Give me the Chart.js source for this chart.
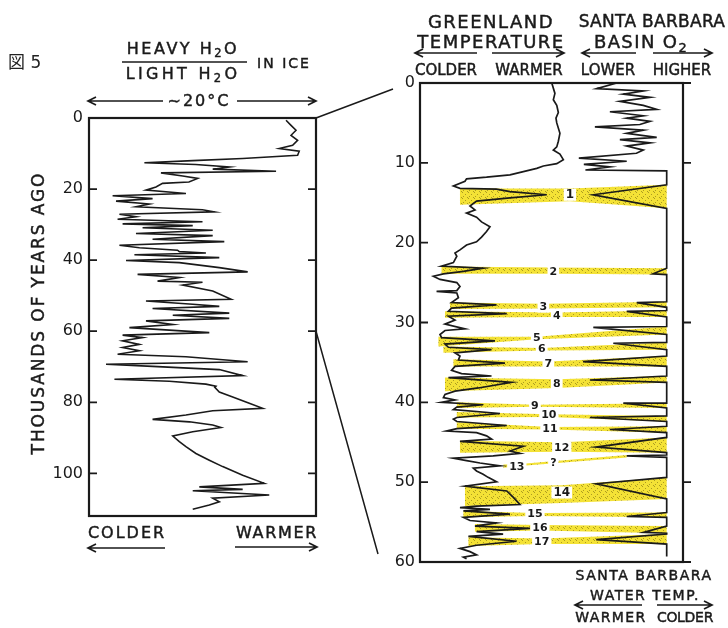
<!DOCTYPE html>
<html><head><meta charset="utf-8">
<script src="https://cdn.jsdelivr.net/npm/chart.js@4.4.0/dist/chart.umd.min.js"></script>
<style>
html,body{margin:0;padding:0;background:#fff;}
#wrap{position:relative;width:728px;height:628px;overflow:hidden;background:#fff;}
canvas{position:absolute;left:0;top:0;}
svg{position:absolute;left:0;top:0;}
.t{position:absolute;font-family:"DejaVu Sans",sans-serif;color:#1a1a1a;white-space:nowrap;line-height:1;-webkit-text-stroke:0.45px #1a1a1a;}
.c{transform:translateX(-50%);}
.s{font-size:0.72em;position:relative;top:0.3em;}
</style></head><body>
<div id="wrap">
<canvas id="c1" width="728" height="628"></canvas>
<canvas id="c2" width="728" height="628"></canvas>
<svg width="728" height="628">
<g stroke="#1a1a1a" stroke-width="1.7" fill="none">
 <line x1="122" y1="62" x2="247" y2="62"/>
 <path d="M163 101 H88 M96 97 L88 101 L96 105"/>
 <path d="M237 101 H316 M308 97 L316 101 L308 105"/>
 <path d="M477 53 H415 M423 49 L415 53 L423 57"/>
 <path d="M492 53 H564 M556 49 L564 53 L556 57"/>
 <path d="M636 53 H582 M590 49 L582 53 L590 57"/>
 <path d="M653 53 H712 M704 49 L712 53 L704 57"/>
 <path d="M165 548 H88 M96 544 L88 548 L96 552"/>
 <path d="M235 547 H317 M309 543 L317 547 L309 551"/>
 <path d="M642 605 H575 M583 601 L575 605 L583 609"/>
 <path d="M657 605 H712 M704 601 L712 605 L704 609"/>
</g></svg>
<div class="t" style="left:8px;top:52px;font-size:17px;color:#222;-webkit-text-stroke:0"><span style="font-family:'Noto Sans CJK JP'">図</span> 5</div>
<div class="t c" style="left:183px;top:41px;font-size:16px;letter-spacing:2.5px">HEAVY H<span class="s">2</span>O</div>
<div class="t c" style="left:183px;top:66px;font-size:16px;letter-spacing:3.3px">LIGHT H<span class="s">2</span>O</div>
<div class="t c" style="left:284px;top:56px;font-size:14px;letter-spacing:2px">IN ICE</div>
<div class="t c" style="left:199px;top:93px;font-size:16px;letter-spacing:2px">~20°C</div>
<div class="t c" style="left:127px;top:525px;font-size:16px;letter-spacing:2px">COLDER</div>
<div class="t c" style="left:277px;top:525px;font-size:16px;letter-spacing:1.7px">WARMER</div>
<div class="t" style="left:38px;top:313px;font-size:17px;letter-spacing:1.9px;transform:translate(-50%,-50%) rotate(-90deg)">THOUSANDS OF YEARS AGO</div>
<div class="t c" style="left:491px;top:13px;font-size:18px;letter-spacing:1.5px">GREENLAND</div>
<div class="t c" style="left:491px;top:33px;font-size:18px;letter-spacing:1.5px">TEMPERATURE</div>
<div class="t c" style="left:446px;top:63px;font-size:15px">COLDER</div>
<div class="t c" style="left:529px;top:63px;font-size:15px">WARMER</div>
<div class="t c" style="left:652px;top:13px;font-size:17px;letter-spacing:0.3px">SANTA BARBARA</div>
<div class="t c" style="left:641px;top:33px;font-size:18px;letter-spacing:1.4px">BASIN O<span class="s">2</span></div>
<div class="t c" style="left:608px;top:63px;font-size:15px">LOWER</div>
<div class="t c" style="left:682px;top:63px;font-size:15px">HIGHER</div>
<div class="t c" style="left:644px;top:568px;font-size:14px;letter-spacing:1.5px">SANTA BARBARA</div>
<div class="t c" style="left:645px;top:588px;font-size:14px;letter-spacing:1.5px">WATER TEMP.</div>
<div class="t c" style="left:611px;top:610px;font-size:14px;letter-spacing:1.4px">WARMER</div>
<div class="t c" style="left:685px;top:610px;font-size:14px;letter-spacing:-0.3px">COLDER</div>
</div>
<script>
// ---------- DATA ----------
// Left panel: heavy/light water in ice (0 = colder, 100 = warmer), age in thousands of years
const iceAge = [0.65,2.06,3.46,4.87,6.27,7.68,8.61,9.36,10.5,11.4,12.0,12.6,13.1,13.8,14.4,15.0,15.45,16.3,17.0,18.0,18.4,19.4,20.3,21.25,21.9,22.7,23.4,24.2,25.0,25.8,26.4,27.1,27.8,28.5,29.2,29.8,30.3,30.9,31.6,32.5,33.1,34.1,34.8,35.8,36.5,37.2,37.6,38.0,38.5,39.3,40.1,40.7,42.1,43.3,44.0,44.9,45.9,46.2,47.0,48.7,51.0,51.5,52.4,53.0,53.6,54.9,55.5,56.4,57.1,58.1,59.0,60.4,61.1,61.8,62.7,63.7,64.6,65.5,66.5,67.2,68.6,69.3,69.9,70.8,72.5,73.5,74.1,74.9,75.5,75.8,77.1,78.5,80.3,81.7,82.4,83.6,84.8,85.5,86.4,87.1,88.3,89.5,91.1,92.5,94.4,96.3,98.1,100.5,102.8,103.8,104.5,104.9,106.1,107.0,108.0,108.9,110.1];
const iceValue = [86.8,89,91.2,89,91.9,89.7,83.8,92.6,91.9,67.7,45.7,24.4,47,61.8,54.5,82.4,31.7,41.3,47.9,44,32.4,29.5,25.1,42.7,10.4,28,11.9,26.6,20.7,50,55.2,13.4,20.7,12.6,50,14.8,45.7,23.6,54.5,20.7,54.5,28,59.6,13.4,22.2,39,39.8,51.5,20,57.4,16.3,39.8,57.4,69.9,21.4,39.8,30.2,50,41.3,54.5,62.6,25.1,45.7,57.4,28,61.8,36.9,61.8,25.1,36.9,17.8,53,14.8,23.6,14.8,22.2,14.8,22.2,12.6,42.7,69.9,7.5,28,57.4,67.7,11.2,35.4,51.5,55.9,55.4,57.4,63.3,70.6,76.5,54.5,42.7,28,44.2,54.5,58.1,45.7,36.9,39.8,42.7,47.1,53,58.9,67.7,77.2,48.6,67.7,45.7,79.4,54.5,57.4,53,45.7];
const leftTicks = [0,20,40,60,80,100];
const leftMaxAge = 112;

// Right panel: Greenland temperature (0 = colder side of panel)
const grAge = [0,1.3,2.1,2.8,3.7,4.4,5.0,6.3,7.3,8.0,8.4,8.9,9.6,10.1,10.4,10.7,11.1,11.5,11.8,12.0,12.3,12.9,13.2,13.3,13.6,14.0,14.4,14.8,15.4,15.9,16.3,16.8,17.4,18.0,18.6,19.3,19.9,20.3,20.9,21.3,21.7,22.5,22.95,23.2,23.6,23.9,24.2,24.6,25.0,25.5,26.0,26.1,26.3,26.9,27.5,27.8,28.2,28.6,28.9,29.2,29.7,30.2,30.8,31.0,31.5,31.9,32.3,32.7,33.1,33.4,33.8,34.2,34.7,35.1,35.5,36.0,36.4,36.7,36.9,37.5,38.2,38.6,39.0,39.4,39.7,40.0,40.3,40.6,40.9,41.4,41.9,42.1,42.4,42.9,43.3,43.6,43.8,44.2,44.6,44.9,45.5,46.1,46.4,46.7,47.0,47.3,47.6,47.95,48.25,48.6,49.0,49.4,49.95,50.5,51.1,51.9,52.8,53.0,53.2,53.4,53.6,54.0,54.4,54.8,55.1,55.5,55.8,56.2,56.5,56.8,57.4,57.9,58.3,58.7,59.1,59.4,59.6];
const grValue = [50.1,51.3,50.7,52,52.6,51.7,52,53.2,52.6,52,50.7,53.2,54.5,52,46.9,44.4,39.3,34.2,25.3,17.7,17.1,12.7,15.2,29.1,34.2,48.2,34.2,21.5,19,20.9,17.7,21.5,23.4,26.6,25.3,23.4,21.5,17.7,15.2,13.3,14,12.7,8.2,24,16.5,8.9,5.1,7.6,14,15.2,14,6.3,14,14.6,12,29.1,12,10.8,33,10.8,13.3,9.5,17.1,9.5,7.6,8.2,28.5,9.5,10.8,27.2,13.3,15.2,14.6,32.3,13.3,12,15.8,27.2,10.8,34.8,22.2,13.3,9.5,8.9,13.3,8.2,24,14,12.7,30.4,14,12.7,14,33,14,10.1,21.5,25.3,27.2,15.2,39.3,34.2,38,27.8,12.7,17.7,22.8,30.4,20.3,21.5,24,25.9,29.1,17.1,33,35.5,38,21.5,15.2,26.6,16.5,34.2,16.5,19,29.1,20.9,41.8,21.5,31.6,18.4,36.7,21.5,15.2,19,21.5,16.5,17.7];

// Santa Barbara Basin O2 (upper, 0-11 kyr)
const sbAge = [0,0.7,1.0,1.4,1.8,2.3,2.8,3.3,3.6,4.1,4.4,4.8,5.2,5.5,5.9,6.3,6.8,7.1,7.5,7.9,8.4,8.8,9.4,9.8,10.2,10.5,10.9,11.0];
const sbValue = [74.8,67.2,84.9,77.3,87.5,76,84.9,90,72.2,84.9,78.6,87.5,83.6,66.5,84.9,78.6,90,76,87.5,78.6,84.9,82.3,60.4,78.6,62.3,72.2,62.9,93.8];
const sbBase = 93.8;      // Santa Barbara water-temperature baseline (colder edge)
const sbEndAge = 59.3;

// Correlated events 1-17 (and the doubtful one "?")
const bandLabels = ['1','2','3','4','5','6','7','8','9','10','11','12','13','14','15','16','17'];
const bandLeftX  = [15.2,8.2,11.4,9.5,7,8.9,12.7,9.5,14,14,14,15.2,31.7,17.1,16.5,20.9,18.4];
const bandMidX   = [57,50.7,46.9,52,44.4,46.3,48.8,52,43.7,49,49.4,53.9,36.8,53.9,43.7,45.6,46.3];
const bandRightX = [93.8,93.8,93.8,93.8,93.8,93.8,93.8,93.8,93.8,93.8,93.8,93.8,78.6,93.8,93.8,93.8,93.8];
const bandTopL = [13.2,23.0,27.5,28.6,31.8,33.0,34.6,36.9,40.0,41.2,42.5,44.8,47.8,50.5,53.6,55.25,56.9];
const bandBotL = [15.25,23.9,28.3,29.4,33.0,33.8,35.5,38.6,40.7,41.9,43.3,46.3,48.2,53.0,54.4,56.2,58.0];
const bandTopM = [13.2,23.1,27.65,28.75,31.8,33.2,34.9,37.1,40.3,41.5,43.1,45.0,47.75,50.4,53.85,55.35,57.05];
const bandBotM = [14.8,23.9,28.25,29.3,32.1,33.5,35.5,38.2,40.55,41.85,43.4,46.2,48.0,52.6,54.25,56.05,57.75];
const bandTopR = [12.75,23.2,27.4,28.5,30.5,32.5,34.2,36.7,40.1,41.7,43.0,44.4,46.6,49.4,53.8,55.5,56.5];
const bandBotR = [15.7,24.0,28.1,29.3,31.5,33.4,35.5,37.5,40.7,42.4,43.8,46.3,46.9,52.1,54.4,56.4,57.75];
const bandLabelAge = [14.0,23.6,28.0,29.1,31.9,33.3,35.2,37.6,40.4,41.6,43.25,45.7,48.0,51.3,54.0,55.7,57.5];
const sbTipX   = [65.9,88.6,82.4,78.6,65.9,73.5,62,64.6,77.3,64.6,72.2,67,78.6,67,78.6,85,67];
const sbTipAge = [14.0,23.9,27.5,28.6,30.6,32.6,34.9,37.2,40.1,41.9,43.4,45.6,46.7,50.2,54.3,56.3,57.2];
const extraLabels = ['?'];
const extraLabelX = [50.7];
const extraLabelAge = [47.6];

const rightTicks = [0,10,20,30,40,50,60];
const linkAges = [0,60];
// ---------- END DATA ----------

const FONT = '"DejaVu Sans", sans-serif';
const INK = '#1a1a1a';

function pts(xs, ys){ return xs.map((x,i)=>({x:x, y:ys[i]})); }

const framePlugin = {
  id: 'frame',
  afterDatasetsDraw(chart, args, opts) {
    const {ctx, chartArea: a, scales} = chart;
    const ys = scales.y;
    ctx.save();
    ctx.strokeStyle = INK; ctx.lineWidth = 2.2;
    ctx.strokeRect(a.left, a.top, a.right - a.left, a.bottom - a.top);
    ctx.lineWidth = 1.8;
    ys.ticks.forEach(t => {
      const py = ys.getPixelForValue(t.value);
      ctx.beginPath();
      ctx.moveTo(a.left, py); ctx.lineTo(a.left + opts.leftLen, py);
      ctx.moveTo(a.right, py); ctx.lineTo(a.right + opts.rightLen, py);
      ctx.stroke();
    });
    ctx.restore();
  }
};

function yAxis(max, ticks, width, pad) {
  return {
    type: 'linear', position: 'left', reverse: true, min: 0, max: max,
    grid: {display: false, drawTicks: false}, border: {display: false},
    afterBuildTicks: s => { s.ticks = ticks.map(v => ({value: v})); },
    afterFit: s => { s.width = width; },
    ticks: {padding: pad, color: INK, font: {family: FONT, size: 16}}
  };
}

// ---------- LEFT CHART ----------
const chart1 = new Chart(document.getElementById('c1'), {
  type: 'scatter',
  data: { datasets: [{
    data: pts(iceValue, iceAge), showLine: true, borderColor: INK, borderWidth: 1.6,
    pointRadius: 0, tension: 0, fill: false
  }]},
  options: {
    responsive: false, animation: false, devicePixelRatio: 1,
    layout: {padding: {left: 49, right: 412, top: 118, bottom: 112}},
    plugins: {legend: {display: false}, tooltip: {enabled: false}, frame: {leftLen: 8, rightLen: -8}},
    scales: {
      x: {type: 'linear', min: 0, max: 100, display: false},
      y: yAxis(leftMaxAge, leftTicks, 40, 6)
    }
  },
  plugins: [framePlugin]
});

// ---------- RIGHT CHART ----------
const c2 = document.getElementById('c2');
function makePattern(ctx) {
  const p = document.createElement('canvas'); p.width = 6; p.height = 6;
  const g = p.getContext('2d');
  g.fillStyle = '#f4e236'; g.fillRect(0,0,6,6);
  g.fillStyle = 'rgba(100,85,10,0.5)';
  g.fillRect(0,0,1,1); g.fillRect(3,2,1,1); g.fillRect(1,4,1,1); g.fillRect(5,5,1,1);
  return ctx.createPattern(p, 'repeat');
}
const yellow = makePattern(c2.getContext('2d'));

// Santa Barbara curve: upper record, then baseline with excursions at each event
const sbPoints = pts(sbValue, sbAge);
bandLabels.forEach((l, i) => {
  sbPoints.push({x: sbBase, y: bandTopR[i]});
  sbPoints.push({x: sbTipX[i], y: sbTipAge[i]});
  sbPoints.push({x: sbBase, y: bandBotR[i]});
});
sbPoints.push({x: sbBase, y: sbEndAge});

const bandSets = bandLabels.map((l, i) => ({
  data: [
    {x: bandLeftX[i], y: bandTopL[i]}, {x: bandMidX[i], y: bandTopM[i]}, {x: bandRightX[i], y: bandTopR[i]},
    {x: bandRightX[i], y: bandBotR[i]}, {x: bandMidX[i], y: bandBotM[i]}, {x: bandLeftX[i], y: bandBotL[i]}
  ],
  showLine: true, fill: 'shape', backgroundColor: yellow, borderColor: 'rgba(0,0,0,0)', borderWidth: 0,
  pointRadius: 0, order: 2
}));

const labelPlugin = {
  id: 'bandLabels',
  afterDatasetsDraw(chart) {
    const {ctx, scales: {x, y}} = chart;
    ctx.save();
    ctx.textAlign = 'center'; ctx.textBaseline = 'middle';
    const draw = (txt, vx, vy) => {
      ctx.font = (txt === '14' || txt === '1' ? 'bold 12px ' : 'bold 11px ') + FONT;
      const px = x.getPixelForValue(vx), py = y.getPixelForValue(vy);
      const w = ctx.measureText(txt).width;
      ctx.fillStyle = '#fff'; ctx.fillRect(px - w/2 - 2, py - 6, w + 4, 12);
      ctx.fillStyle = INK; ctx.fillText(txt, px, py + 0.5);
    };
    bandLabels.forEach((t, i) => draw(t, bandMidX[i], bandLabelAge[i]));
    extraLabels.forEach((t, i) => draw(t, extraLabelX[i], extraLabelAge[i]));
    ctx.restore();
  }
};

const connectorPlugin = {
  id: 'connector',
  afterDraw(chart) {
    const ctx = chart.ctx, a1 = chart1.chartArea, y1 = chart1.scales.y;
    const a2 = chart.chartArea, y2 = chart.scales.y;
    ctx.save(); ctx.strokeStyle = INK; ctx.lineWidth = 1.5;
    ctx.beginPath();
    ctx.moveTo(a1.right, y1.getPixelForValue(linkAges[0]));
    ctx.lineTo(a2.left - 27, y2.getPixelForValue(rightTicks[0]) + 6);
    ctx.moveTo(a1.right, y1.getPixelForValue(linkAges[1]));
    ctx.lineTo(a2.left - 42, y2.getPixelForValue(rightTicks[rightTicks.length - 1]) - 8);
    ctx.stroke(); ctx.restore();
  }
};

const chart2 = new Chart(c2, {
  type: 'scatter',
  data: { datasets: [
    {data: pts(grValue, grAge), showLine: true, borderColor: INK, borderWidth: 1.7, pointRadius: 0, fill: false, order: 0},
    {data: sbPoints, showLine: true, borderColor: INK, borderWidth: 1.7, pointRadius: 0, fill: false, order: 0},
    ...bandSets
  ]},
  options: {
    responsive: false, animation: false, devicePixelRatio: 1,
    layout: {padding: {left: 380, right: 45, top: 83, bottom: 66}},
    plugins: {legend: {display: false}, tooltip: {enabled: false}, frame: {leftLen: 8, rightLen: 8}},
    scales: {
      x: {type: 'linear', min: 0, max: 100, display: false},
      y: yAxis(60, rightTicks, 40, 5)
    }
  },
  plugins: [framePlugin, labelPlugin, connectorPlugin]
});
</script>
</body></html>
